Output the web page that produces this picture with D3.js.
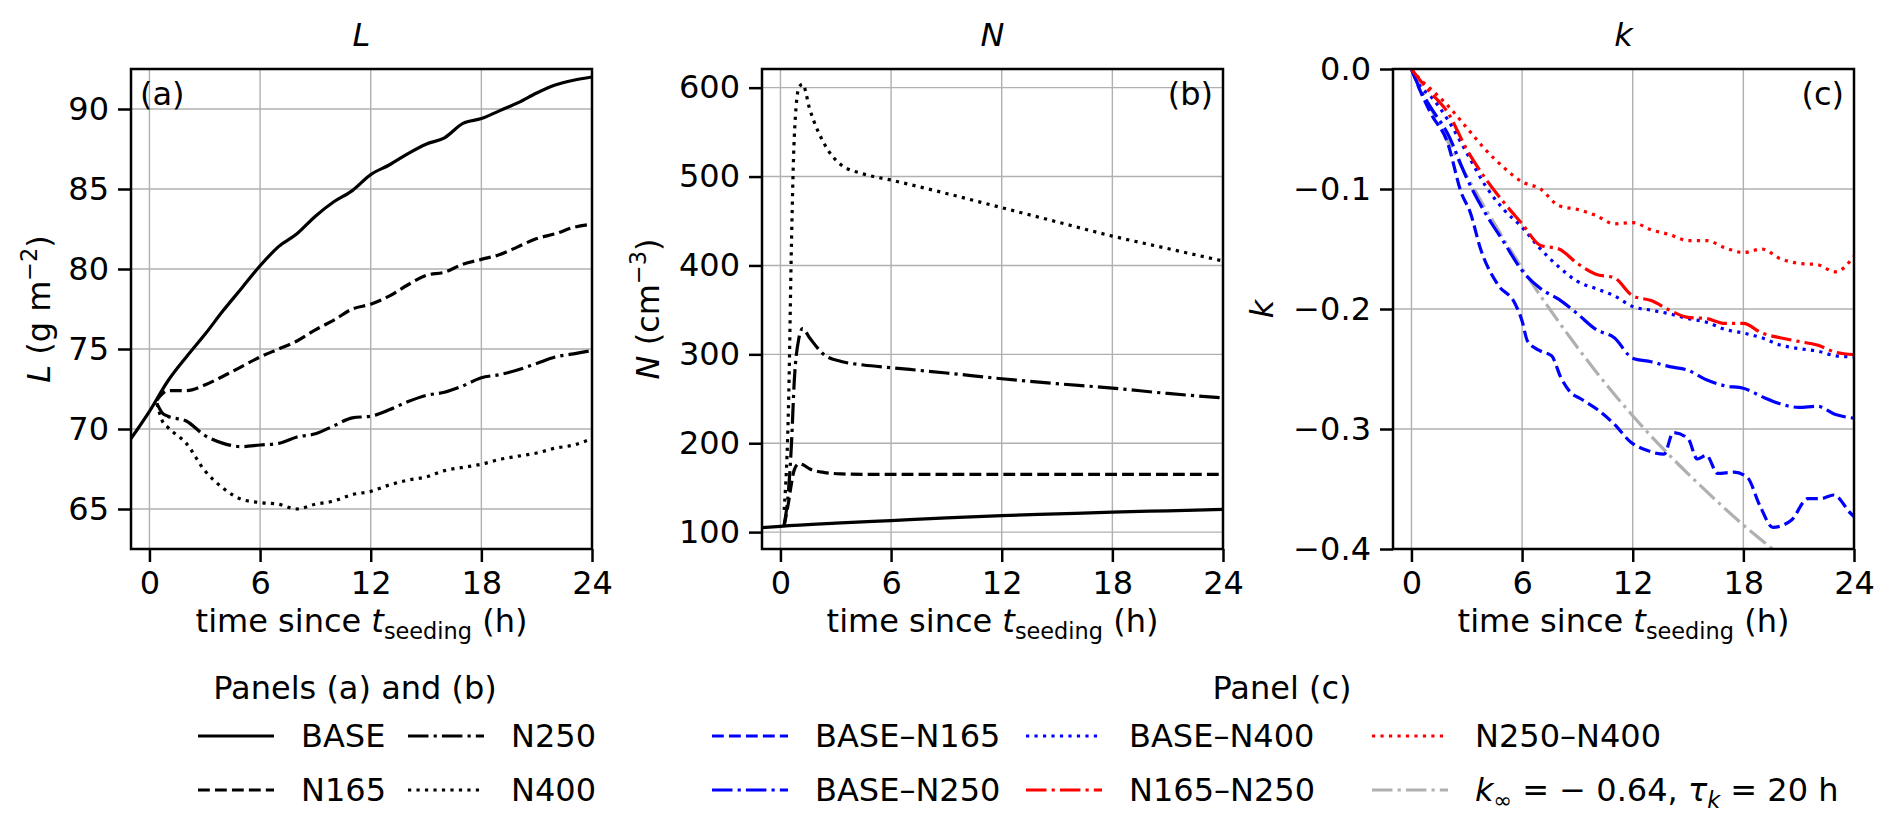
<!DOCTYPE html>
<html>
<head>
<meta charset="utf-8">
<script src="https://cdn.jsdelivr.net/npm/d3@7"></script>
<style>
  body { margin: 0; background: #fff; }
  svg { display: block; font-family: "DejaVu Sans", sans-serif; }
</style>
</head>
<body>
<svg id="chart" width="1892" height="829"></svg>
<script>
'use strict';

// ---- data ----
// panel (a): liquid water path L (g m-2)
const hoursBase = [-1, 0, 1, 2, 3, 4, 5, 6, 7, 8, 9, 10, 11, 12, 13, 14, 15, 16, 17, 18, 19, 20, 21, 22, 23, 24];
const lBase = [69.4, 71.1, 73.0, 74.5, 75.9, 77.4, 78.8, 80.2, 81.4, 82.2, 83.3, 84.2, 84.9, 85.9, 86.5, 87.2, 87.8, 88.2, 89.1, 89.4, 89.9, 90.4, 91.0, 91.5, 91.8, 92.0];
const hoursSeeded = [0.4, 0.7, 1, 2, 3, 4, 5, 6, 7, 8, 9, 10, 11, 12, 13, 14, 15, 16, 17, 18, 19, 20, 21, 22, 23, 24];
const lN165 = [71.8, 72.2, 72.4, 72.4, 72.75, 73.3, 73.9, 74.5, 75.0, 75.5, 76.2, 76.8, 77.5, 77.8, 78.3, 79.0, 79.6, 79.8, 80.3, 80.6, 80.9, 81.4, 81.9, 82.2, 82.6, 82.8];
const lN250 = [71.6, 71.0, 70.8, 70.5, 69.6, 69.1, 68.9, 69.0, 69.1, 69.5, 69.7, 70.2, 70.7, 70.8, 71.2, 71.7, 72.1, 72.3, 72.7, 73.2, 73.4, 73.7, 74.1, 74.5, 74.7, 74.9];
const lN400 = [71.6, 70.5, 70.1, 69.1, 67.4, 66.3, 65.6, 65.4, 65.3, 65.0, 65.3, 65.5, 65.9, 66.1, 66.5, 66.8, 67.0, 67.4, 67.6, 67.8, 68.1, 68.3, 68.5, 68.8, 69.0, 69.4];

// panel (b): droplet number N (cm-3)
const hoursBaseN = [-1, 0, 3, 6, 9, 12, 15, 18, 21, 24];
const nBase = [105, 106.5, 110, 113, 116, 118.5, 120.5, 122.5, 124, 125.5];
const hoursN = [0.2, 0.45, 0.6, 0.75, 1.0, 1.2, 1.6, 2.4, 3.3, 4.5, 6, 9, 12, 15, 18, 21, 24];
const nN165 = [107, 135, 155, 170, 177, 176, 171, 167, 165.5, 165, 165, 165, 165, 165, 165, 165, 165];
const nN250 = [108, 150, 200, 270, 318, 329, 318, 299, 292, 288, 285, 279, 272.5, 267, 262, 256, 251];
const nN400 = [125, 253, 427, 544, 600, 604, 575, 536, 513, 503, 496, 481, 465, 449, 433, 419, 405];

// panel (c): k for pairs of runs
const hoursK165 = [0, 0.5, 1.05, 1.95, 2.7, 3.2, 3.75, 4.7, 5.6, 6, 6.3, 7, 7.6, 8.1, 8.6, 9.2, 10.1, 11, 11.9, 12.8, 13.7, 14.2, 15, 15.5, 16, 16.6, 17.5, 18.2, 18.9, 19.6, 20.6, 21.5, 22.2, 22.9, 23.8, 24];
const kBaseN165 = [0, -0.019, -0.037, -0.061, -0.103, -0.120, -0.150, -0.180, -0.195, -0.21, -0.227, -0.235, -0.239, -0.257, -0.269, -0.275, -0.284, -0.296, -0.311, -0.318, -0.321, -0.303, -0.308, -0.325, -0.322, -0.337, -0.336, -0.340, -0.364, -0.382, -0.376, -0.358, -0.358, -0.355, -0.370, -0.373];
const hoursK = [0, 0.5, 1, 2, 3, 4, 5, 6, 7, 8, 9, 10, 11, 12, 13, 14, 15, 16, 17, 18, 19, 20, 21, 22, 23, 24];
const kBaseN250 = [0, -0.018, -0.031, -0.055, -0.091, -0.120, -0.144, -0.168, -0.183, -0.192, -0.204, -0.217, -0.224, -0.241, -0.244, -0.248, -0.251, -0.259, -0.264, -0.266, -0.273, -0.279, -0.282, -0.281, -0.288, -0.291];
const kBaseN400 = [0, -0.015, -0.022, -0.043, -0.070, -0.097, -0.117, -0.132, -0.150, -0.165, -0.177, -0.183, -0.189, -0.198, -0.201, -0.204, -0.208, -0.211, -0.217, -0.220, -0.224, -0.230, -0.233, -0.235, -0.239, -0.240];
const kN165N250 = [0, -0.010, -0.019, -0.037, -0.067, -0.091, -0.111, -0.129, -0.147, -0.150, -0.162, -0.171, -0.174, -0.189, -0.193, -0.201, -0.207, -0.208, -0.212, -0.212, -0.220, -0.224, -0.227, -0.230, -0.236, -0.238];
const kN250N400 = [0, -0.009, -0.016, -0.031, -0.049, -0.067, -0.082, -0.094, -0.100, -0.114, -0.117, -0.122, -0.129, -0.128, -0.134, -0.138, -0.143, -0.143, -0.149, -0.153, -0.150, -0.158, -0.162, -0.163, -0.169, -0.156];
const hoursFit = [0, 2, 4, 6, 8, 10, 12, 14, 16, 18, 20, 21];
const kFit = [0, -0.061, -0.116, -0.166, -0.211, -0.252, -0.289, -0.322, -0.352, -0.380, -0.405, -0.417];

// ticks
const hourTicks = [0, 6, 12, 18, 24];
const lTicks = [65, 70, 75, 80, 85, 90];
const nTicks = [100, 200, 300, 400, 500, 600];
const kTicks = [0, -0.1, -0.2, -0.3, -0.4];

// legend entries
const runNames = ['BASE', 'N165', 'N250', 'N400'];
const pairNames = ['BASE–N165', 'BASE–N250', 'BASE–N400', 'N165–N250', 'N250–N400', 'fit'];

// ---- layout and styles ----
const FS = 32;
const LW = 3.2;
const TOP = 69;
const H = 480;
const W = 461;
const PANEL_LEFT = [131, 762, 1393];
const DASH = {
  solid: null,
  dashed: [3.7, 1.6].map(d => d * LW).join(','),
  dashdot: [6.4, 1.6, 1, 1.6].map(d => d * LW).join(','),
  dotted: [1, 1.65].map(d => d * LW).join(',')
};
const runStyle = {
  BASE: { color: '#000', dash: DASH.solid },
  N165: { color: '#000', dash: DASH.dashed },
  N250: { color: '#000', dash: DASH.dashdot },
  N400: { color: '#000', dash: DASH.dotted }
};
const pairStyle = {
  'BASE–N165': { color: '#0000ff', dash: DASH.dashed },
  'BASE–N250': { color: '#0000ff', dash: DASH.dashdot },
  'BASE–N400': { color: '#0000ff', dash: DASH.dotted },
  'N165–N250': { color: '#ff0000', dash: DASH.dashdot },
  'N250–N400': { color: '#ff0000', dash: DASH.dotted },
  fit: { color: '#b0b0b0', dash: DASH.dashdot }
};

const svg = d3.select('#chart');

// write text made of plain / italic / super / sub parts
function richText(sel, parts) {
  let shift = 0;
  parts.forEach(function(p) {
    const span = sel.append('tspan').text(p.t);
    if (p.it) span.attr('font-style', 'italic');
    let target = 0;
    if (p.sup) target = -FS * 0.4;
    if (p.sub) target = FS * 0.22;
    if (p.sup || p.sub) span.attr('font-size', FS * 0.7);
    if (target !== shift) span.attr('dy', target - shift);
    shift = target;
  });
  return sel;
}

const xLabel = [
  { t: 'time since ' }, { t: 't', it: true }, { t: 'seeding', sub: true }, { t: ' (h)' }
];

/**
 * One axes box with grid, series, ticks and labels
 */
function drawPanel(i, cfg) {
  const g = svg.append('g').attr('transform', 'translate(' + PANEL_LEFT[i] + ',' + TOP + ')');
  const x = d3.scaleLinear().domain([-1, 24]).range([0, W]);
  const y = d3.scaleLinear().domain(cfg.yDomain).range([H, 0]);

  // grid
  g.append('g')
    .selectAll('line')
    .data(hourTicks)
    .join('line')
    .attr('x1', d => x(d)).attr('x2', d => x(d))
    .attr('y1', 0).attr('y2', H)
    .attr('stroke', '#b0b0b0').attr('stroke-width', 1.4);
  g.append('g')
    .selectAll('line')
    .data(cfg.yTicks)
    .join('line')
    .attr('x1', 0).attr('x2', W)
    .attr('y1', d => y(d)).attr('y2', d => y(d))
    .attr('stroke', '#b0b0b0').attr('stroke-width', 1.4);

  svg.append('clipPath')
    .attr('id', 'clip' + i)
    .append('rect')
    .attr('width', W).attr('height', H);

  const line = d3.line()
    .x(d => x(d[0]))
    .y(d => y(d[1]))
    .curve(d3.curveMonotoneX);

  g.append('g')
    .attr('clip-path', 'url(#clip' + i + ')')
    .selectAll('path')
    .data(cfg.series)
    .join('path')
    .attr('d', s => line(d3.zip(s.hours, s.values)))
    .attr('fill', 'none')
    .attr('stroke', s => s.style.color)
    .attr('stroke-width', LW)
    .attr('stroke-dasharray', s => s.style.dash)
    .attr('stroke-linejoin', 'round');

  // frame
  g.append('rect')
    .attr('width', W).attr('height', H)
    .attr('fill', 'none').attr('stroke', '#000').attr('stroke-width', 2.5);

  const ax = g.append('g')
    .attr('transform', 'translate(0,' + H + ')')
    .call(d3.axisBottom(x).tickValues(hourTicks).tickSize(13).tickPadding(9));
  const ay = g.append('g')
    .call(d3.axisLeft(y).tickValues(cfg.yTicks).tickSize(13).tickPadding(9).tickFormat(cfg.fmt));
  [ax, ay].forEach(function(a) {
    a.attr('font-size', FS).attr('font-family', null);
    a.select('.domain').remove();
    a.selectAll('line').attr('stroke-width', 2.5);
    a.selectAll('text').attr('fill', '#000');
  });

  // title
  g.append('text')
    .attr('x', W / 2).attr('y', -23)
    .attr('text-anchor', 'middle')
    .attr('font-size', FS).attr('font-style', 'italic')
    .text(cfg.title);

  // panel letter
  g.append('text')
    .attr('x', cfg.letterRight ? W - 10 : 9).attr('y', 36)
    .attr('text-anchor', cfg.letterRight ? 'end' : 'start')
    .attr('font-size', FS)
    .text(cfg.letter);

  // axis labels
  richText(g.append('text')
    .attr('x', W / 2).attr('y', H + 83)
    .attr('text-anchor', 'middle')
    .attr('font-size', FS), xLabel);
  richText(g.append('text')
    .attr('transform', 'translate(' + cfg.yLabelX + ',' + H / 2 + ') rotate(-90)')
    .attr('dy', '0.35em')
    .attr('text-anchor', 'middle')
    .attr('font-size', FS), cfg.yLabel);
}

drawPanel(0, {
  yDomain: [62.5, 92.5],
  yTicks: lTicks,
  fmt: d3.format('d'),
  title: 'L',
  letter: '(a)',
  yLabelX: -92,
  yLabel: [{ t: 'L', it: true }, { t: ' (g m' }, { t: '−2', sup: true }, { t: ')' }],
  series: [
    { hours: hoursBase, values: lBase, style: runStyle.BASE },
    { hours: hoursSeeded, values: lN165, style: runStyle.N165 },
    { hours: hoursSeeded, values: lN250, style: runStyle.N250 },
    { hours: hoursSeeded, values: lN400, style: runStyle.N400 }
  ]
});

drawPanel(1, {
  yDomain: [81, 621],
  yTicks: nTicks,
  fmt: d3.format('d'),
  title: 'N',
  letter: '(b)',
  letterRight: true,
  yLabelX: -114,
  yLabel: [{ t: 'N', it: true }, { t: ' (cm' }, { t: '−3', sup: true }, { t: ')' }],
  series: [
    { hours: hoursBaseN, values: nBase, style: runStyle.BASE },
    { hours: hoursN, values: nN165, style: runStyle.N165 },
    { hours: hoursN, values: nN250, style: runStyle.N250 },
    { hours: hoursN, values: nN400, style: runStyle.N400 }
  ]
});

drawPanel(2, {
  yDomain: [-0.4, 0],
  yTicks: kTicks,
  fmt: d3.format('.1f'),
  title: 'k',
  letter: '(c)',
  letterRight: true,
  yLabelX: -131,
  yLabel: [{ t: 'k', it: true }],
  series: [
    { hours: hoursFit, values: kFit, style: pairStyle.fit },
    { hours: hoursK165, values: kBaseN165, style: pairStyle['BASE–N165'] },
    { hours: hoursK, values: kBaseN250, style: pairStyle['BASE–N250'] },
    { hours: hoursK, values: kBaseN400, style: pairStyle['BASE–N400'] },
    { hours: hoursK, values: kN165N250, style: pairStyle['N165–N250'] },
    { hours: hoursK, values: kN250N400, style: pairStyle['N250–N400'] }
  ]
});

// ---- legends ----
function drawLegend(title, titleX, entries) {
  const lg = svg.append('g');
  lg.append('text')
    .attr('x', titleX).attr('y', 699)
    .attr('text-anchor', 'middle')
    .attr('font-size', FS)
    .text(title);
  const rowY = [747, 801];
  entries.forEach(function(e) {
    const yb = rowY[e.row];
    lg.append('line')
      .attr('x1', e.x).attr('x2', e.x + 76)
      .attr('y1', yb - 11).attr('y2', yb - 11)
      .attr('stroke', e.style.color)
      .attr('stroke-width', LW)
      .attr('stroke-dasharray', e.style.dash);
    richText(lg.append('text')
      .attr('x', e.x + 103).attr('y', yb)
      .attr('font-size', FS), e.label);
  });
}

drawLegend('Panels (a) and (b)', 355, [
  { row: 0, x: 198, label: [{ t: runNames[0] }], style: runStyle[runNames[0]] },
  { row: 1, x: 198, label: [{ t: runNames[1] }], style: runStyle[runNames[1]] },
  { row: 0, x: 408, label: [{ t: runNames[2] }], style: runStyle[runNames[2]] },
  { row: 1, x: 408, label: [{ t: runNames[3] }], style: runStyle[runNames[3]] }
]);

drawLegend('Panel (c)', 1282, [
  { row: 0, x: 712, label: [{ t: pairNames[0] }], style: pairStyle[pairNames[0]] },
  { row: 1, x: 712, label: [{ t: pairNames[1] }], style: pairStyle[pairNames[1]] },
  { row: 0, x: 1026, label: [{ t: pairNames[2] }], style: pairStyle[pairNames[2]] },
  { row: 1, x: 1026, label: [{ t: pairNames[3] }], style: pairStyle[pairNames[3]] },
  { row: 0, x: 1372, label: [{ t: pairNames[4] }], style: pairStyle[pairNames[4]] },
  { row: 1, x: 1372, label: [
    { t: 'k', it: true }, { t: '∞', sub: true }, { t: ' = − 0.64, ' },
    { t: 'τ', it: true }, { t: 'k', it: true, sub: true }, { t: ' = 20 h' }
  ], style: pairStyle.fit }
]);
</script>
</body>
</html>
